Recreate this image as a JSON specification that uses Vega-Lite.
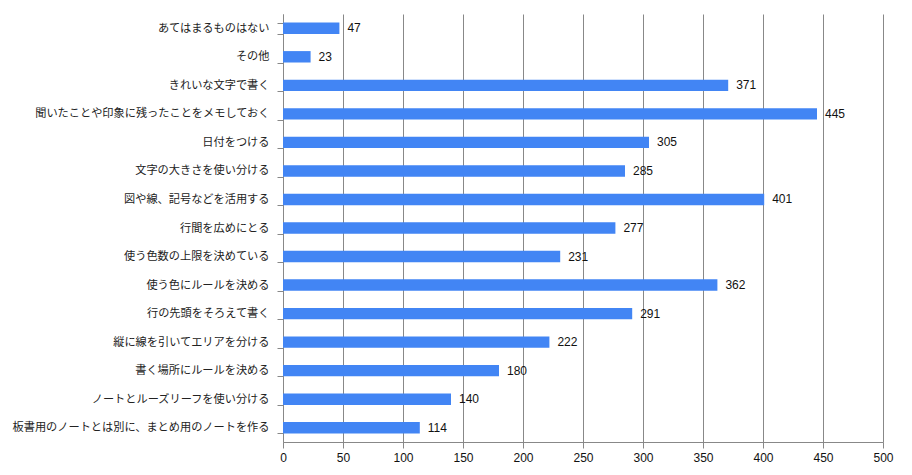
{
  "$schema": "https://vega.github.io/schema/vega-lite/v6.json",
  "width": 600,
  "height": 428,
  "autosize": "none",
  "padding": {"left": 283, "top": 14, "right": 29, "bottom": 33},
  "background": "white",
  "config": {"view": {"stroke": null}},
  "data": {"values": [
    {"item": "あてはまるものはない", "count": 47},
    {"item": "その他", "count": 23},
    {"item": "きれいな文字で書く", "count": 371},
    {"item": "聞いたことや印象に残ったことをメモしておく", "count": 445},
    {"item": "日付をつける", "count": 305},
    {"item": "文字の大きさを使い分ける", "count": 285},
    {"item": "図や線、記号などを活用する", "count": 401},
    {"item": "行間を広めにとる", "count": 277},
    {"item": "使う色数の上限を決めている", "count": 231},
    {"item": "使う色にルールを決める", "count": 362},
    {"item": "行の先頭をそろえて書く", "count": 291},
    {"item": "縦に線を引いてエリアを分ける", "count": 222},
    {"item": "書く場所にルールを決める", "count": 180},
    {"item": "ノートとルーズリーフを使い分ける", "count": 140},
    {"item": "板書用のノートとは別に、まとめ用のノートを作る", "count": 114}
  ]},
  "encoding": {
    "y": {
      "field": "item", "type": "nominal", "sort": null,
      "scale": {"paddingInner": 0.6, "paddingOuter": 0.3},
      "axis": {
        "title": null, "domainColor": "#888888", "tickColor": "#888888", "tickSize": 6,
        "tickBand": "extent", "labelPadding": 8, "labelFont": "Noto Sans CJK JP",
        "labelFontSize": 11.2, "labelColor": "#222222", "labelLimit": 400
      }
    },
    "x": {
      "field": "count", "type": "quantitative",
      "scale": {"domain": [0, 500], "nice": false},
      "axis": {
        "title": null, "values": [0, 50, 100, 150, 200, 250, 300, 350, 400, 450, 500],
        "grid": true, "gridColor": "#888888", "gridOpacity": 1,
        "domainColor": "#888888", "tickColor": "#888888", "tickSize": 6,
        "labelPadding": 4, "labelFont": "Liberation Sans", "labelFontSize": 12,
        "labelColor": "#111111", "labelFlush": false
      }
    }
  },
  "layer": [
    {"mark": {"type": "bar", "color": "#4285F4"}},
    {"mark": {"type": "text", "align": "left", "dx": 8, "font": "Liberation Sans", "fontSize": 12, "color": "#111111"},
     "encoding": {"text": {"field": "count", "type": "quantitative"}}}
  ]
}
